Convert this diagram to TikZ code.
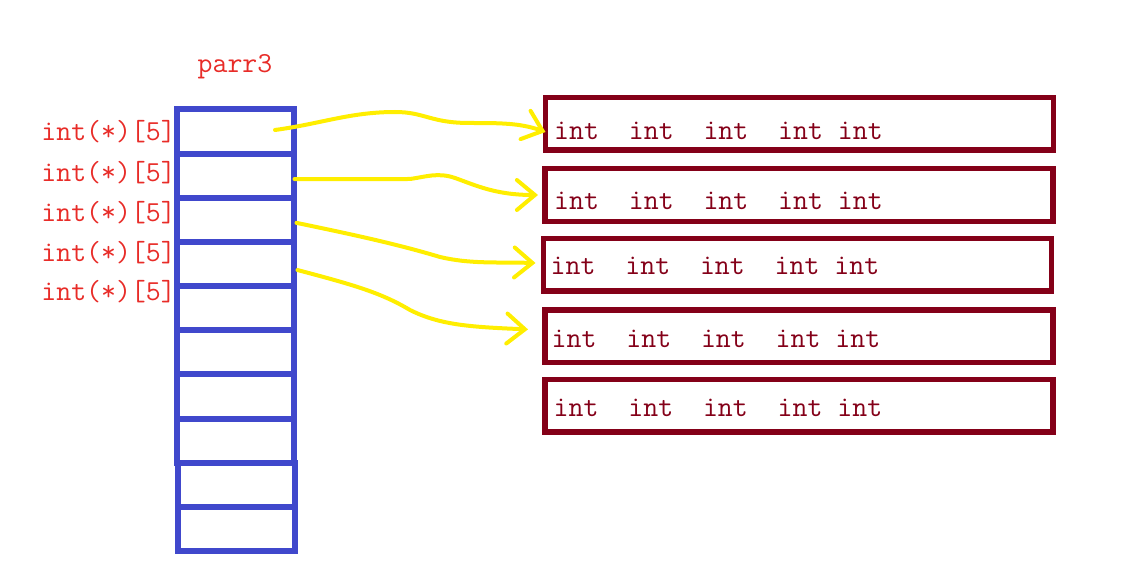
\documentclass[tikz,border=0pt]{standalone}
\usepackage{fontspec}
\usepackage{tikz}
\usetikzlibrary{positioning,arrows.meta,calc}
\usepackage{xcolor}
\definecolor{cellblue}{RGB}{64,72,204}
\definecolor{lblred}{RGB}{232,44,40}
\definecolor{rowred}{RGB}{132,0,24}
\definecolor{penyellow}{RGB}{255,238,0}
\newcommand{\codefont}{\ttfamily\fontsize{29}{31}\selectfont}

\begin{document}
\begin{tikzpicture}[x=1pt,y=-1pt,
  cell/.style={draw=cellblue,line width=6pt,minimum width=117pt,minimum height=44.15pt,inner sep=0pt,outer sep=0pt},
  rowbox/.style={draw=rowred,line width=5.5pt,minimum width=508pt,minimum height=52.5pt,inner sep=0pt,outer sep=0pt},
  lbl/.style={text=lblred,font=\codefont,inner sep=0pt,anchor=base east},
  ints/.style={text=rowred,font=\codefont,inner sep=0pt,anchor=base west},
  hand/.style={draw=penyellow,line width=4pt,line cap=round,line join=round,-{Straight Barb[length=18pt,width=30pt,line cap=round]}}]
\path[use as bounding box] (0,0) rectangle (1148,572);

% the pointer array
\node[text=lblred,font=\codefont,anchor=base] (name) at (235,73) {parr3};
\foreach \i in {1,...,10}
  \node[cell] (c\i) at ({235+(\i>8)},{109.5+44.15*(\i-0.5)}) {};
\foreach \i/\y in {1/141,2/181.5,3/221.5,4/261,5/300.5}
  \node[lbl] (l\i) at (176,\y) {int(*)[5]};

% the rows of five ints
\node[rowbox] (r1) at (799.5,124) {};
\node[rowbox] (r2) at (799,195) {};
\node[rowbox] (r3) at (797.5,264.5) {};
\node[rowbox] (r4) at (799,336.4) {};
\node[rowbox] (r5) at (799,405.8) {};
\node[ints] (t1) at (554,140) {int\ \ int\ \ int\ \ int int};
\node[ints] (t2) at (554,209.5) {int\ \ int\ \ int\ \ int int};
\node[ints] (t3) at (550.5,274.5) {int\ \ int\ \ int\ \ int int};
\node[ints] (t4) at (551.5,347.5) {int\ \ int\ \ int\ \ int int};
\node[ints] (t5) at (553.5,416) {int\ \ int\ \ int\ \ int int};

% hand drawn pointers
\draw[hand] ($(c1.center)+(40,-1.6)$) .. controls (320,124) and (350,112) .. (395,112)
  .. controls (425,112) and (430,123) .. (470,123) .. controls (500,123) and (520,123) .. ($(r1.west)+(0,8)$);
\draw[hand] ($(c2.east)+(1,3.3)$) -- (410,179) .. controls (425,177) and (438,172) .. (455,178)
  .. controls (475,185) and (495,195) .. ($(r2.west)+(-7,0)$);
\draw[hand] ($(c3.east)+(3,3)$) .. controls (360,236) and (400,245) .. (440,257)
  .. controls (470,264) and (495,262) .. ($(r3.west)+(-8,-1.5)$);
\draw[hand] ($(c4.east)+(4,6)$) .. controls (350,284) and (380,292) .. (410,310)
  .. controls (440,325) and (470,327) .. ($(r4.west)+(-17,-7)$);
\end{tikzpicture}
\end{document}
